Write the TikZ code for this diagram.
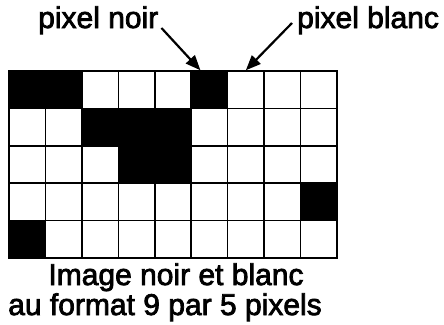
\documentclass[tikz,border=0pt]{standalone}
\usepackage{fontspec}
\setmainfont{Liberation Sans}
\newfontfamily\labelfont[FakeBold=2.5]{Liberation Sans}
\usetikzlibrary{arrows.meta, positioning}

\begin{document}
\begin{tikzpicture}[
    x=1pt, y=-1pt,
    pixbox/.style={rectangle, draw=black, line width=1.5pt, fill=white, minimum width=36.44pt, minimum height=37.4pt, inner sep=0pt},
    blackbox/.style={pixbox, fill=black},
    labeltext/.style={font=\fontsize{30}{36}\labelfont, inner sep=0pt},
    pointer/.style={-{Triangle[length=15pt, width=12pt]}, line width=2.2pt, black}
]
\useasboundingbox (0,0) rectangle (444,324);

% === Grid of 9 x 5 pixels ===
\foreach \r in {0,...,4} {
  \foreach \c in {0,...,8} {
    \node[pixbox] (p-\r-\c) at ({9+(\c+0.5)*36.44}, {71+(\r+0.5)*37.4}) {};
  }
}

% Black pixels
\foreach \r/\c in {0/0, 0/1, 0/5, 1/2, 1/3, 1/4, 2/3, 2/4, 3/8, 4/0} {
  \node[blackbox] at (p-\r-\c) {};
}

% === Labels ===
\node[labeltext, anchor=base west] (noir) at (38,28) {pixel noir};
\node[labeltext, anchor=base west] (blanc) at (297,28) {pixel blanc};

\node[labeltext, anchor=base] (caption) at (176,285) {Image noir et blanc};
\node[labeltext, anchor=base] (format) at (165,315) {au format 9 par 5 pixels};

% === Arrows ===
\draw[pointer] ([xshift=3pt]noir.base east) -- ([xshift=-9pt]p-0-5.north);
\draw[pointer] ([xshift=-5pt, yshift=5pt]blanc.base west) -- (p-0-6.north);

\end{tikzpicture}
\end{document}
